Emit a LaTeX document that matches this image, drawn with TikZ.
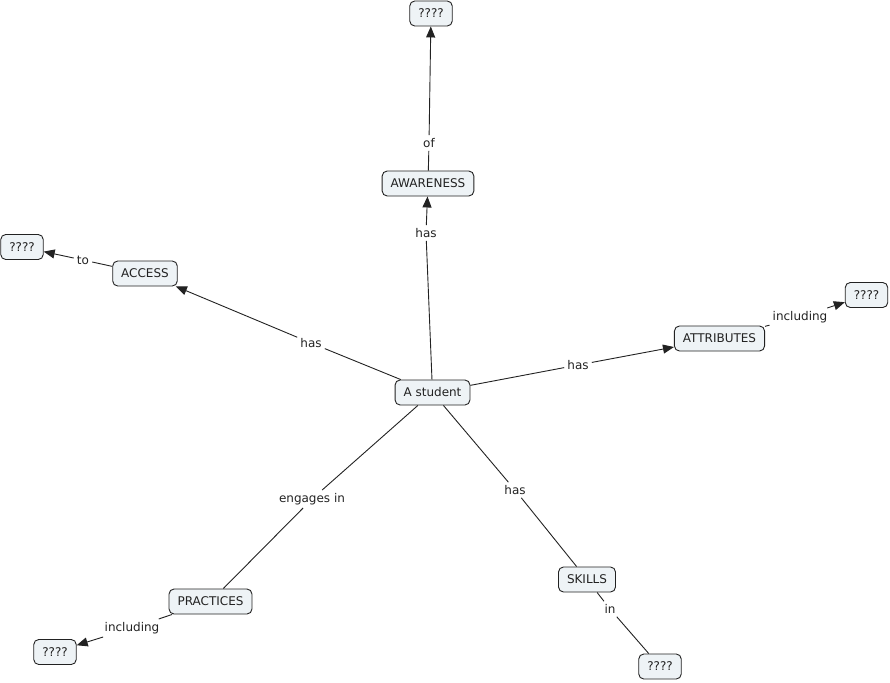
\documentclass[tikz,border=0pt]{standalone}
\usepackage{fontspec}
\setmainfont{DejaVu Sans}
\usetikzlibrary{arrows.meta}
\definecolor{boxfill}{HTML}{EEF3F6}
\definecolor{ink}{HTML}{222222}
\tikzset{
  concept/.style={draw=ink, fill=boxfill, rounded corners=5pt, line width=0.9pt,
    minimum height=25pt, inner xsep=8.5pt, inner ysep=2pt, font=\fontsize{12}{14}\selectfont, text=ink},
  linklabel/.style={inner sep=3pt, font=\fontsize{12}{14}\selectfont, text=ink},
  conn/.style={draw=ink, line width=0.9pt},
  arr/.style={conn, -{Triangle[length=11pt,width=9pt]}}
}
\begin{document}
\begin{tikzpicture}[x=1pt,y=-1pt]
\useasboundingbox (0,0) rectangle (890,682);
% concepts
\node[concept] (top) at (431,13.5) {????};
\node[concept] (aware) at (428,183.5) {AWARENESS};
\node[concept] (access) at (145,273.5) {ACCESS};
\node[concept] (left) at (22,247) {????};
\node[concept] (attr) at (719.5,338.5) {ATTRIBUTES};
\node[concept] (right) at (866.5,295) {????};
\node[concept] (stu) at (432.5,392.5) {A student};
\node[concept] (prac) at (210.5,601.5) {PRACTICES};
\node[concept] (bl) at (55,652) {????};
\node[concept] (skills) at (587,579.5) {SKILLS};
\node[concept] (br) at (660,666.5) {????};
% link labels
\node[linklabel] (of) at (429,143) {of};
\node[linklabel] (has1) at (426,233) {has};
\node[linklabel] (to) at (83,260) {to};
\node[linklabel] (has2) at (311,343) {has};
\node[linklabel] (incl1) at (800,317) {including};
\node[linklabel] (has3) at (578,365) {has};
\node[linklabel] (eng) at (312,499) {engages in};
\node[linklabel] (has4) at (515,490) {has};
\node[linklabel] (in) at (610,609) {in};
\node[linklabel] (incl2) at (132,628) {including};
% connectors
\draw[conn] (stu) -- (has1);
\draw[arr] (has1) -- (aware);
\draw[conn] (aware) -- (of);
\draw[arr] (of) -- (top);
\draw[conn] (stu) -- (has2);
\draw[arr] (has2) -- (access);
\draw[conn] (access) -- (to);
\draw[arr] (to) -- (left);
\draw[conn] (stu) -- (has3);
\draw[arr] (has3) -- (attr);
\draw[conn] (attr) -- (incl1);
\draw[arr] (incl1) -- (right);
\draw[conn] (stu) -- (eng);
\draw[conn] (eng) -- (prac);
\draw[conn] (prac) -- (incl2);
\draw[arr] (incl2) -- (bl);
\draw[conn] (stu) -- (has4);
\draw[conn] (has4) -- (skills);
\draw[conn] (skills) -- (in);
\draw[conn] (in) -- (br);
\end{tikzpicture}
\end{document}
